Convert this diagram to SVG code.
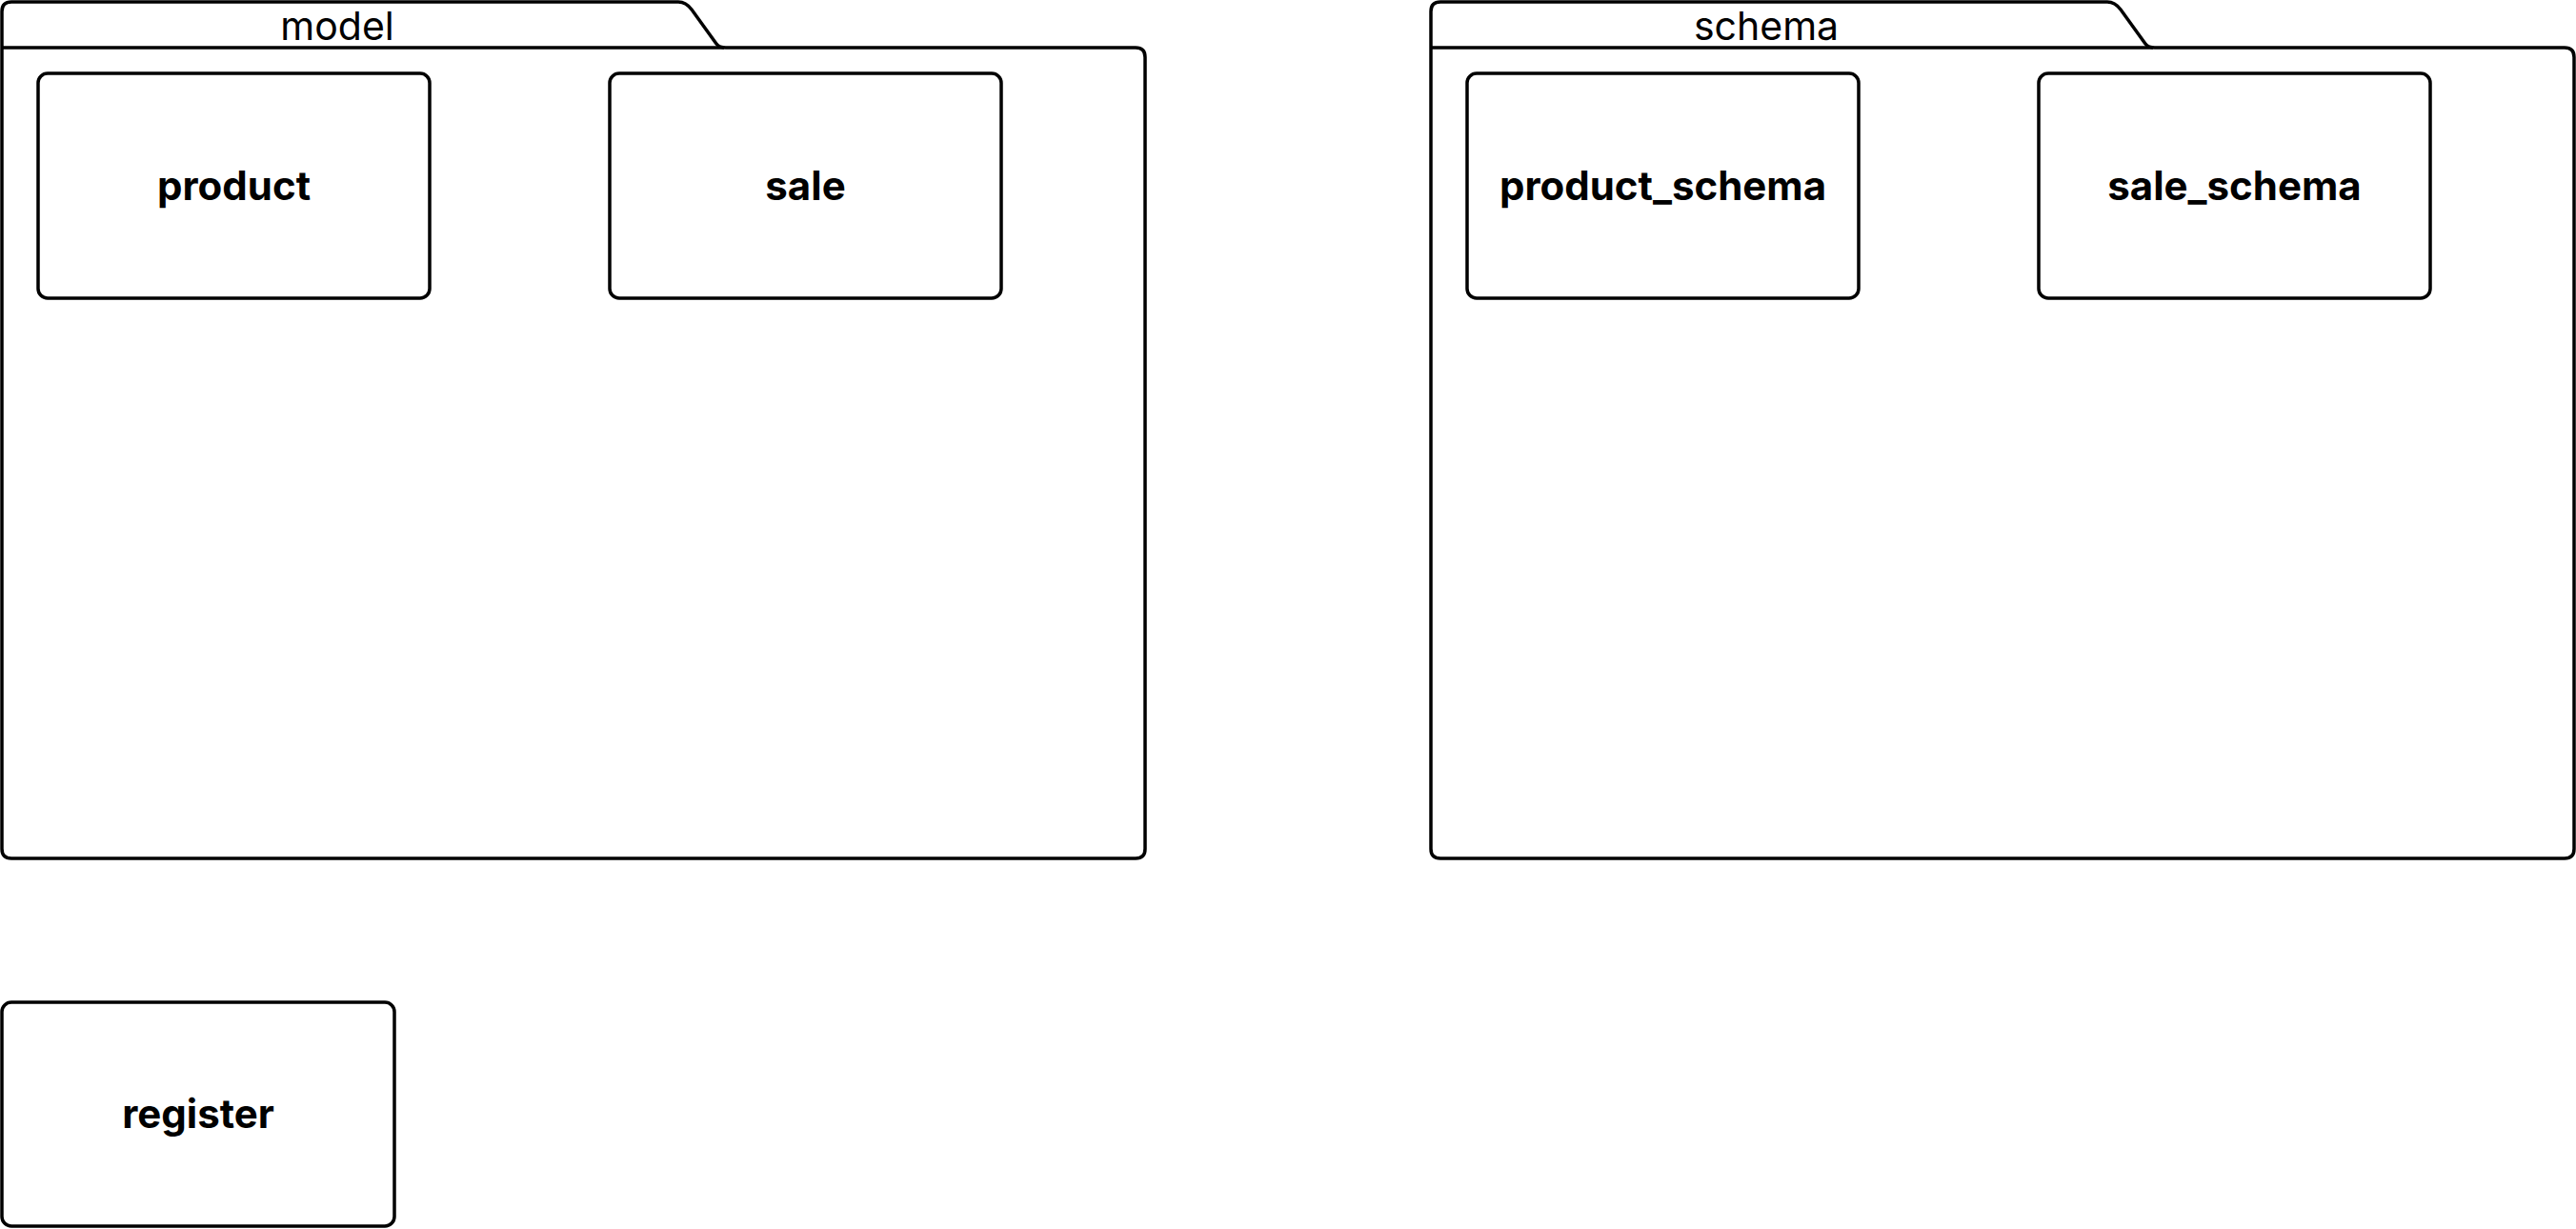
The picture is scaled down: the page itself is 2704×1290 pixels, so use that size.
<svg xmlns="http://www.w3.org/2000/svg" width="2704" height="1290" viewBox="0 0 2704 1290">
<style>
.shape{fill:#fff;stroke:#000;stroke-width:3.5;stroke-linejoin:round}
.line{fill:none;stroke:#000;stroke-width:3.5}
.title{font-family:Inter,"Liberation Sans",sans-serif;font-size:41px;font-weight:400;text-anchor:middle;fill:#000}
.label{font-family:Inter,"Liberation Sans",sans-serif;font-size:42px;font-weight:700;text-anchor:middle;fill:#000}
</style>
<rect width="2704" height="1290" fill="#fff"/>
<g id="model">
<path class="shape" d="M2,50 L2,12 Q2,2 12,2 L712,2 Q720,2 726,10 L752,46 Q755,50 762,50 L1192,50 Q1202,50 1202,60 L1202,891 Q1202,901 1192,901 L12,901 Q2,901 2,891 Z"/>
<line class="line" x1="2" y1="50" x2="760" y2="50"/>
<text class="title" x="354" y="42">model</text>
</g>
<g id="schema">
<path class="shape" d="M1502,50 L1502,12 Q1502,2 1512,2 L2212,2 Q2220,2 2226,10 L2252,46 Q2255,50 2262,50 L2692,50 Q2702,50 2702,60 L2702,891 Q2702,901 2692,901 L1512,901 Q1502,901 1502,891 Z"/>
<line class="line" x1="1502" y1="50" x2="2260" y2="50"/>
<text class="title" x="1854" y="42">schema</text>
</g>
<g id="product">
<rect class="shape" x="40" y="77" width="411" height="236" rx="10"/>
<text class="label" x="245.5" y="210">product</text>
</g>
<g id="sale">
<rect class="shape" x="640" y="77" width="411" height="236" rx="10"/>
<text class="label" x="845.5" y="210">sale</text>
</g>
<g id="product_schema">
<rect class="shape" x="1540" y="77" width="411" height="236" rx="10"/>
<text class="label" x="1745.5" y="210">product_schema</text>
</g>
<g id="sale_schema">
<rect class="shape" x="2140" y="77" width="411" height="236" rx="10"/>
<text class="label" x="2345.5" y="210">sale_schema</text>
</g>
<g id="register">
<rect class="shape" x="2" y="1052" width="412" height="235" rx="10"/>
<text class="label" x="208" y="1184">register</text>
</g>
<g id="connectors"></g>
</svg>
